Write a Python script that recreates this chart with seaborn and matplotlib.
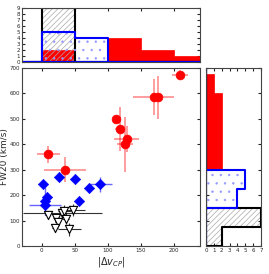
import matplotlib
matplotlib.use("Agg")
import matplotlib.pyplot as plt
import numpy as np
import pandas as pd
import seaborn as sns

# ----------------------------------------------------
# Data
# ----------------------------------------------------
red_x    = [10, 35, 113, 119, 126, 129, 170, 177, 210]
red_y    = [360, 300, 499, 460, 401, 420, 587, 585, 673]
red_xerr = [18, 32, 5, 8, 12, 19, 31, 6, 12]
red_yerr = [34, 50, 10, 88, 108, 50, 70, 85, 20]

blue_x    = [2.5, 26, 51, 89, 71, 7.6, 5, 56, 4.5]
blue_y    = [243, 273, 264, 243, 230, 192, 178, 177, 163]
blue_xerr = [3, 4, 3, 18, 4, 3, 3, 3, 24]
blue_yerr = [12, 15, 12, 30, 12, 15, 55, 10, 15]

black_x    = [9, 22, 24, 31, 34, 36, 48, 20, 42]
black_y    = [122, 112, 95, 130, 138, 108, 142, 70, 66]
black_xerr = [4, 5, 4, 60, 10, 6, 18, 4, 17]
black_yerr = [12, 15, 12, 20, 25, 20, 25, 10, 25]

# ----------------------------------------------------
# Style
# ----------------------------------------------------
sns.set_style("ticks")
plt.rcParams.update({
    "xtick.direction": "in",
    "ytick.direction": "in",
    "xtick.top": True,
    "ytick.right": True,
    "xtick.major.size": 2.5,
    "ytick.major.size": 2.5,
    "xtick.major.pad": 1.5,
    "ytick.major.pad": 1.5,
    "xtick.labelsize": 4,
    "ytick.labelsize": 4,
    "axes.edgecolor": "#444444",
    "axes.linewidth": 0.8,
    "hatch.linewidth": 0.5,
})
plt.rcParams["font.family"] = ["DejaVu Sans"]

fig = plt.figure(figsize=(2.69, 2.74), dpi=100)
ax = fig.add_axes([0.082, 0.102, 0.661, 0.65])
ax_top = fig.add_axes([0.082, 0.774, 0.661, 0.197])
ax_right = fig.add_axes([0.766, 0.102, 0.204, 0.65])

# ----------------------------------------------------
# Main scatter with error bars
# ----------------------------------------------------
ax.errorbar(red_x, red_y, xerr=red_xerr, yerr=red_yerr, fmt="none",
            ecolor="red", alpha=0.45, elinewidth=1.2)
ax.errorbar(blue_x, blue_y, xerr=blue_xerr, yerr=blue_yerr, fmt="none",
            ecolor="blue", alpha=0.6, elinewidth=1.0)
ax.errorbar(black_x, black_y, xerr=black_xerr, yerr=black_yerr, fmt="none",
            ecolor="black", alpha=0.8, elinewidth=0.8)

sns.scatterplot(x=red_x, y=red_y, ax=ax, marker="o", color="red",
                edgecolor="red", s=40, zorder=3)
sns.scatterplot(x=blue_x, y=blue_y, ax=ax, marker="D", color="blue",
                edgecolor="blue", s=28, zorder=3)
sns.scatterplot(x=black_x, y=black_y, ax=ax, marker="v", facecolor="white",
                edgecolor="black", linewidth=0.8, s=35, zorder=3)

ax.set_xlim(-30, 240)
ax.set_ylim(0, 700)
ax.set_xticks([0, 50, 100, 150, 200])
ax.set_yticks(range(0, 701, 100))
ax.set_xlabel(r"$|\Delta v_{CP}|$", fontsize=7, labelpad=1)
ax.set_ylabel("FW20 (km/s)", fontsize=6.5, labelpad=0.5)

# ----------------------------------------------------
# Marginal histograms
# ----------------------------------------------------
xbins = np.arange(-50, 251, 50)
ybins = np.arange(0, 751, 75)


def marg(axh, vals, bins, horiz=False):
    key = "y" if horiz else "x"
    return dict(ax=axh, bins=bins, element="step", fill=True, **{key: vals})


for axh, horiz, bins, rv, kv, bv in [
    (ax_top, False, xbins, red_x, black_x, blue_x),
    (ax_right, True, ybins, red_y, black_y, blue_y),
]:
    sns.histplot(**marg(axh, rv, bins, horiz), color="red", facecolor="red",
                 edgecolor="red", linewidth=0.5, alpha=1)
    sns.histplot(**marg(axh, kv, bins, horiz), color="gray", facecolor="none",
                 edgecolor="#aaaaaa", hatch="//////", linewidth=0)
    sns.histplot(**marg(axh, kv, bins, horiz), color="black", facecolor="none",
                 edgecolor="black", linewidth=1.5)
    sns.histplot(**marg(axh, bv, bins, horiz), color="blue", facecolor="none",
                 edgecolor="#9999ff", hatch="..", linewidth=0)
    sns.histplot(**marg(axh, bv, bins, horiz), color="blue", facecolor="none",
                 edgecolor="blue", linewidth=1.5)
    axh.set_xlabel("")
    axh.set_ylabel("")

ax_top.set_xlim(-30, 240)
ax_top.set_ylim(0, 9)
ax_top.set_yticks(range(0, 10))
ax_top.set_xticks([0, 50, 100, 150, 200])
ax_top.tick_params(labelbottom=False)

ax_right.set_ylim(0, 700)
ax_right.set_xlim(0, 7)
ax_right.set_xticks(range(0, 8))
ax_right.set_yticks(range(0, 701, 100))
ax_right.tick_params(labelleft=False)

fig.savefig("out.png", dpi=100)
